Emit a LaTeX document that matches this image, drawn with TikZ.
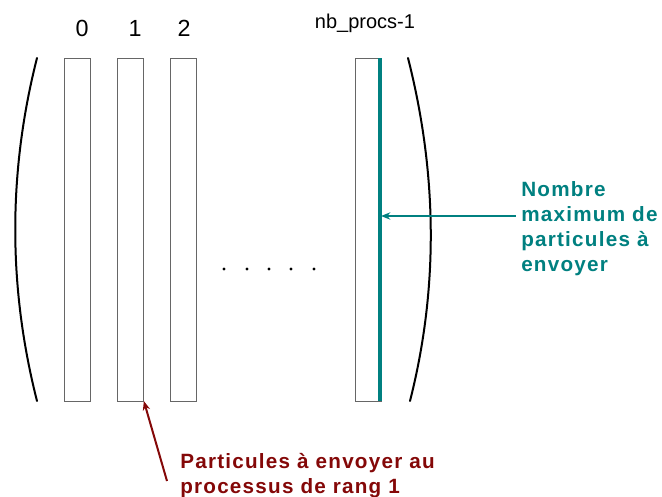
\documentclass[tikz,border=0pt]{standalone}
\usepackage{fontspec}
\setmainfont{Liberation Sans}
\usepackage{xcolor}
\usetikzlibrary{arrows.meta, positioning, calc}
\definecolor{maxteal}{RGB}{0,128,128}
\definecolor{rangred}{RGB}{132,8,8}
\tikzset{
        procbox/.style={rectangle, draw=black!60, line width=0.75pt, inner sep=0pt, outer sep=0pt, minimum width=20pt, minimum height=257.25pt},
        ranklabel/.style={font=\fontsize{17.5}{20}\selectfont, inner sep=0pt},
        paren/.style={line width=1.5pt, line cap=round},
        tealarrow/.style={-{Stealth[length=7pt, width=5.5pt]}, line width=1.5pt, maxteal},
        redarrow/.style={-{Stealth[length=7pt, width=5.5pt]}, line width=1.5pt, rangred},
        notelabel/.style={font=\fontsize{15.5}{18.75}\selectfont\bfseries\addfontfeature{LetterSpace=6}, align=left, inner sep=0pt},
    }
\begin{document}
\begin{tikzpicture}[x=0.75pt, y=-0.75pt]

        \useasboundingbox (0,0) rectangle (662,497);

        % === PROCESS COLUMNS ===
        \node[procbox] (p0) at (77.5,229.5) {};
        \node[procbox] (p1) at (130.5,229.5) {};
        \node[procbox] (p2) at (183.5,229.5) {};
        \node[procbox] (plast) at (368.5,229.5) {};

        % teal bar on the last column
        \draw[maxteal, line width=3pt] ([xshift=-1.5pt]plast.north east) -- ([xshift=-1.5pt]plast.south east);

        % ranks above the columns
        \node[ranklabel] (r0) at (82,28) {0};
        \node[ranklabel] (r1) at (135,28) {1};
        \node[ranklabel] (r2) at (184,28) {2};
        \node[ranklabel, font=\fontsize{15}{17}\selectfont] (rlast) at (365,23) {nb\_procs-1};

        % dots between the columns
        \foreach \x in {224,247,269,291,314}
            \fill (\x,269) circle (1.7);

        % === PARENTHESES ===
        \draw[paren] (37,58) .. controls (8,172) and (8,287) .. (37,401);
        \draw[paren] (408,58) .. controls (437,172) and (439,287) .. (410,401);

        % === LABELS ===
        \node[notelabel, maxteal, anchor=west] (maxlbl) at (521,229) {Nombre\\maximum de\\particules à\\envoyer};
        \coordinate (maxpt) at (381,216);
        \draw[tealarrow] ([xshift=-4pt]maxlbl.west |- maxpt) -- (maxpt);

        \node[notelabel, rangred, anchor=west] (ranglbl) at (180,476) {Particules à envoyer au\\processus de rang 1};
        \coordinate (rangpt) at (167,481);
        \draw[redarrow] (rangpt) -- (p1.south east);

    \end{tikzpicture}
\end{document}
